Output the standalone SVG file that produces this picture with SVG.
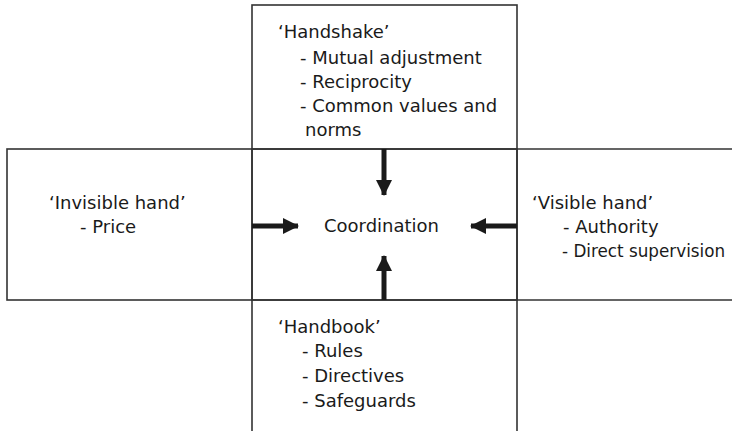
<svg xmlns="http://www.w3.org/2000/svg" width="732" height="431" viewBox="0 0 732 431">
  <style>
    .cell { fill: none; stroke: #333; stroke-width: 1.6; }
    .lbl { font-family: "DejaVu Sans", "Liberation Sans", sans-serif; font-size: 18px; fill: #1a1a1a; }
    .conn { stroke: #1a1a1a; stroke-width: 5; fill: none; }
  </style>
  <defs>
    <marker id="head" markerUnits="userSpaceOnUse" markerWidth="16" markerHeight="16" viewBox="0 0 16 16" refX="15" refY="8" orient="auto">
      <path d="M0,0 L16,8 L0,16 Z" fill="#1a1a1a"/>
    </marker>
  </defs>
  <rect width="732" height="431" fill="#fff"/>

  <!-- top cell -->
  <g id="handshake">
    <rect class="cell" x="252" y="5" width="265" height="144"/>
    <text class="lbl" x="278" y="38">‘Handshake’</text>
    <text class="lbl" x="300" y="64">- Mutual adjustment</text>
    <text class="lbl" x="300" y="88">- Reciprocity</text>
    <text class="lbl" x="300" y="112">- Common values and</text>
    <text class="lbl" x="305" y="136">norms</text>
  </g>

  <!-- left cell -->
  <g id="invisible-hand">
    <rect class="cell" x="7" y="149" width="245" height="151"/>
    <text class="lbl" x="49" y="209">‘Invisible hand’</text>
    <text class="lbl" x="80" y="233">- Price</text>
  </g>

  <!-- centre cell -->
  <g id="coordination">
    <rect class="cell" x="252" y="149" width="265" height="151"/>
    <text class="lbl" x="324" y="232">Coordination</text>
  </g>

  <!-- right cell, open towards the right edge -->
  <g id="visible-hand">
    <path class="cell" d="M732,149 H517 V300 H732"/>
    <text class="lbl" x="532" y="209">‘Visible hand’</text>
    <text class="lbl" x="563" y="233">- Authority</text>
    <text class="lbl" x="562" y="257" style="font-size:16.8px">- Direct supervision</text>
  </g>

  <!-- bottom cell, open towards the bottom edge -->
  <g id="handbook">
    <path class="cell" d="M252,431 V300 H517 V431"/>
    <text class="lbl" x="278" y="333">‘Handbook’</text>
    <text class="lbl" x="302" y="357">- Rules</text>
    <text class="lbl" x="302" y="382">- Directives</text>
    <text class="lbl" x="302" y="407">- Safeguards</text>
  </g>

  <!-- arrows into the centre -->
  <g id="connectors">
    <line class="conn" x1="384" y1="149" x2="384" y2="195" marker-end="url(#head)"/>
    <line class="conn" x1="252" y1="226" x2="298" y2="226" marker-end="url(#head)"/>
    <line class="conn" x1="517" y1="226" x2="471" y2="226" marker-end="url(#head)"/>
    <line class="conn" x1="384" y1="300" x2="384" y2="256" marker-end="url(#head)"/>
  </g>
</svg>
